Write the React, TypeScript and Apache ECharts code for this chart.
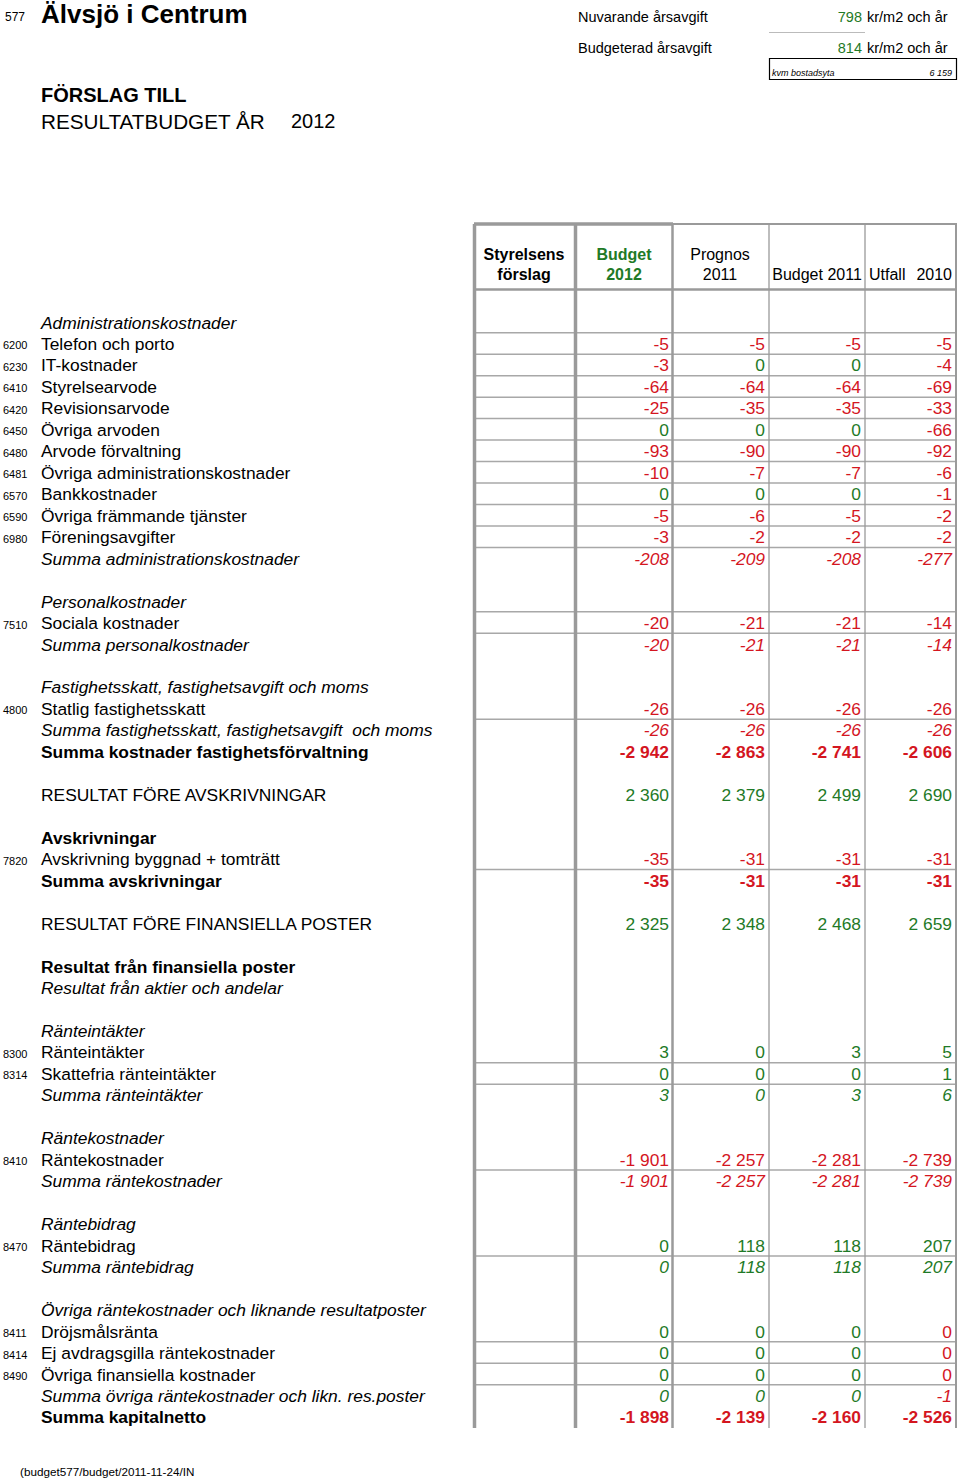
import React, { useEffect, useRef } from "react";
import * as echarts from "echarts";

const _ = null;

// Row table: account code, label, row style (n normal, i italic, b bold)
const codes = [
  "", "6200", "6230", "6410", "6420", "6450", "6480", "6481", "6570", "6590", "6980", "",
  "", "", "7510", "",
  "", "", "4800", "", "",
  "", "",
  "", "", "7820", "",
  "", "",
  "", "", "",
  "", "", "8300", "8314", "",
  "", "", "8410", "",
  "", "", "8470", "",
  "", "", "8411", "8414", "8490", "", "",
];
const labels = [
  "Administrationskostnader", "Telefon och porto", "IT-kostnader", "Styrelsearvode", "Revisionsarvode",
  "Övriga arvoden", "Arvode förvaltning", "Övriga administrationskostnader", "Bankkostnader",
  "Övriga främmande tjänster", "Föreningsavgifter", "Summa administrationskostnader",
  "", "Personalkostnader", "Sociala kostnader", "Summa personalkostnader",
  "", "Fastighetsskatt, fastighetsavgift och moms", "Statlig fastighetsskatt",
  "Summa fastighetsskatt, fastighetsavgift  och moms", "Summa kostnader fastighetsförvaltning",
  "", "RESULTAT FÖRE AVSKRIVNINGAR",
  "", "Avskrivningar", "Avskrivning byggnad + tomträtt", "Summa avskrivningar",
  "", "RESULTAT FÖRE FINANSIELLA POSTER",
  "", "Resultat från finansiella poster", "Resultat från aktier och andelar",
  "", "Ränteintäkter", "Ränteintäkter", "Skattefria ränteintäkter", "Summa ränteintäkter",
  "", "Räntekostnader", "Räntekostnader", "Summa räntekostnader",
  "", "Räntebidrag", "Räntebidrag", "Summa räntebidrag",
  "", "Övriga räntekostnader och liknande resultatposter", "Dröjsmålsränta", "Ej avdragsgilla räntekostnader",
  "Övriga finansiella kostnader", "Summa övriga räntekostnader och likn. res.poster", "Summa kapitalnetto",
];
const styles = [
  "i", "n", "n", "n", "n", "n", "n", "n", "n", "n", "n", "i",
  "n", "i", "n", "i",
  "n", "i", "n", "i", "b",
  "n", "n",
  "n", "b", "n", "b",
  "n", "n",
  "n", "b", "i",
  "n", "i", "n", "n", "i",
  "n", "i", "n", "i",
  "n", "i", "n", "i",
  "n", "i", "n", "n", "n", "i", "b",
];

// Column values (kkr). -0 marks a value that rounds to 0 from below (shown red).
const budget2012 = [
  _, -5, -3, -64, -25, 0, -93, -10, 0, -5, -3, -208,
  _, _, -20, -20,
  _, _, -26, -26, -2942,
  _, 2360,
  _, _, -35, -35,
  _, 2325,
  _, _, _,
  _, _, 3, 0, 3,
  _, _, -1901, -1901,
  _, _, 0, 0,
  _, _, 0, 0, 0, 0, -1898,
];
const prognos2011 = [
  _, -5, 0, -64, -35, 0, -90, -7, 0, -6, -2, -209,
  _, _, -21, -21,
  _, _, -26, -26, -2863,
  _, 2379,
  _, _, -31, -31,
  _, 2348,
  _, _, _,
  _, _, 0, 0, 0,
  _, _, -2257, -2257,
  _, _, 118, 118,
  _, _, 0, 0, 0, 0, -2139,
];
const budget2011 = [
  _, -5, 0, -64, -35, 0, -90, -7, 0, -5, -2, -208,
  _, _, -21, -21,
  _, _, -26, -26, -2741,
  _, 2499,
  _, _, -31, -31,
  _, 2468,
  _, _, _,
  _, _, 3, 0, 3,
  _, _, -2281, -2281,
  _, _, 118, 118,
  _, _, 0, 0, 0, 0, -2160,
];
const utfall2010 = [
  _, -5, -4, -69, -33, -66, -92, -6, -1, -2, -2, -277,
  _, _, -14, -14,
  _, _, -26, -26, -2606,
  _, 2690,
  _, _, -31, -31,
  _, 2659,
  _, _, _,
  _, _, 5, 1, 6,
  _, _, -2739, -2739,
  _, _, 207, 207,
  _, _, -0, -0, -0, -1, -2526,
];
const columns = [budget2012, prognos2011, budget2011, utfall2010];

// Rows that carry a bottom rule
const borderRows = [0, 1, 2, 3, 4, 5, 6, 7, 8, 9, 10, 13, 14, 18, 25, 34, 35, 39, 43, 47, 48, 49];

const RED = "#d4161f";
const GREEN = "#1f7a27";
const FONT = "'Liberation Sans', Arial, Helvetica, sans-serif";
const GRID = "#9a9a9a";
const BODY = 17.4;

function fmt(v: number): string {
  const neg = v < 0;
  const s = String(Math.abs(v)).replace(/\B(?=(\d{3})+(?!\d))/g, " ");
  return (neg ? "-" : "") + s;
}
function isNeg(v: number): boolean {
  return v < 0 || Object.is(v, -0);
}

function txt(x: number, y: number, text: string, opts: any = {}) {
  return {
    type: "text",
    silent: true,
    x,
    y,
    style: {
      text,
      fill: opts.fill || "#000",
      fontSize: opts.size || 16,
      fontWeight: opts.weight || "normal",
      fontStyle: opts.style || "normal",
      fontFamily: FONT,
      textAlign: opts.align || "left",
      textVerticalAlign: "middle",
    },
  };
}
function ln(x1: number, y1: number, x2: number, y2: number, w: number, c = GRID) {
  return {
    type: "line",
    silent: true,
    shape: { x1, y1, x2, y2 },
    style: { stroke: c, lineWidth: w },
  };
}

export default function App() {
  const ref = useRef<HTMLDivElement>(null);
  useEffect(() => {
    if (!ref.current) return;
    const chart = echarts.init(ref.current, undefined, { renderer: "svg" });
    const g: any[] = [];

    // Title block
    g.push(txt(5, 17, "577", { size: 12 }));
    g.push(txt(41, 14, "Älvsjö i Centrum", { size: 26, weight: "bold" }));
    g.push(txt(41, 95, "FÖRSLAG TILL", { size: 20, weight: "bold" }));
    g.push(txt(41, 121, "RESULTATBUDGET ÅR", { size: 20.7 }));
    g.push(txt(291, 121, "2012", { size: 20 }));

    // Fee block
    g.push(txt(578, 17, "Nuvarande årsavgift", { size: 14.5 }));
    g.push(txt(862, 17, "798", { size: 14.5, fill: GREEN, align: "right" }));
    g.push(txt(867, 17, "kr/m2 och år", { size: 14.5 }));
    g.push(ln(769, 32.5, 865, 32.5, 1, "#bbb"));
    g.push(txt(578, 48, "Budgeterad årsavgift", { size: 14.5 }));
    g.push(txt(862, 48, "814", { size: 14.5, fill: GREEN, align: "right" }));
    g.push(txt(867, 48, "kr/m2 och år", { size: 14.5 }));
    g.push({
      type: "rect",
      silent: true,
      shape: { x: 769.5, y: 58.5, width: 187, height: 21 },
      style: { fill: "none", stroke: "#000", lineWidth: 1.2 },
    });
    g.push(txt(772, 73, "kvm bostadsyta", { size: 9, style: "italic" }));
    g.push(txt(952, 73, "6 159", { size: 9, style: "italic", align: "right" }));

    // Table geometry
    const y0 = 322.5;
    const rowH = 21.47;
    const top = 224;
    const bottom = 1428;
    const left = 474;
    const right = 956;
    const colRight = [669, 765, 861, 952];

    // Column headers
    g.push(txt(524, 254, "Styrelsens", { weight: "bold", align: "center" }));
    g.push(txt(524, 274, "förslag", { weight: "bold", align: "center" }));
    g.push(txt(624, 254, "Budget", { weight: "bold", align: "center", fill: GREEN }));
    g.push(txt(624, 274, "2012", { weight: "bold", align: "center", fill: GREEN }));
    g.push(txt(720, 254, "Prognos", { align: "center" }));
    g.push(txt(720, 274, "2011", { align: "center" }));
    g.push(txt(817, 274, "Budget 2011", { align: "center" }));
    g.push(txt(869, 274, "Utfall", {}));
    g.push(txt(952, 274, "2010", { align: "right" }));

    // Grid rules
    borderRows.forEach((r) => {
      const y = 322 + r * rowH + rowH / 2;
      g.push(ln(left, y, right, y, 1.5, "#a8a8a8"));
    });
    g.push(ln(left, top, right + 1, top, 2));
    g.push(ln(left, top, 673, top, 3.5));
    g.push(ln(left, 289.5, right + 1, 289.5, 2.5));
    const vlines: [number, number][] = [
      [474.5, 3.5], [575.5, 3.5], [672.5, 2.5], [769, 1.3], [865, 1.3], [956, 2],
    ];
    vlines.forEach(([x, w]) => g.push(ln(x, top, x, bottom, w)));

    // Rows
    labels.forEach((label, i) => {
      const y = y0 + i * rowH;
      const st = styles[i];
      const weight = st === "b" ? "bold" : "normal";
      const fstyle = st === "i" ? "italic" : "normal";
      if (codes[i]) g.push(txt(3, y + 1.5, codes[i], { size: 11 }));
      if (label) g.push(txt(41, y, label, { weight, style: fstyle, size: BODY }));
      columns.forEach((col, c) => {
        const v = col[i];
        if (v === null || v === undefined) return;
        g.push(
          txt(colRight[c], y, fmt(v), {
            weight,
            style: fstyle,
            align: "right",
            size: BODY,
            fill: isNeg(v) ? RED : GREEN,
          })
        );
      });
    });

    g.push(txt(20, 1471, "(budget577/budget/2011-11-24/IN", { size: 11.7 }));

    chart.setOption({
      animation: false,
      backgroundColor: "#fff",
      graphic: { elements: g },
    });
    return () => chart.dispose();
  }, []);

  return (
    <div
      ref={ref}
      style={{ position: "absolute", left: 0, top: 0, width: 960, height: 1479, background: "#fff" }}
    />
  );
}
